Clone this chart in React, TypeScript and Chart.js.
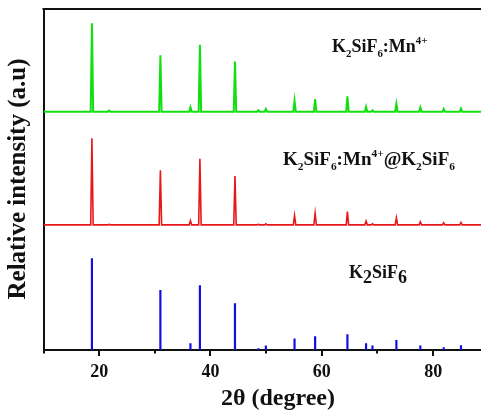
import React, { useEffect, useRef } from 'react';
import { Chart, registerables } from 'chart.js';

Chart.register(...registerables);

// ---- data (2θ in degrees, intensities in arbitrary units) ----
const X_MIN = 10;
const X_MAX = 88.6;
const Y_MAX = 100;

const peakPositions = [18.7, 21.8, 31.0, 36.4, 38.1, 44.4, 48.6, 49.95, 55.1, 58.8, 64.6, 67.95, 69.1, 73.4, 77.7, 81.9, 85.0];
const mnIntensity = [25.9, 0.3, 16.5, 1.3, 19.6, 14.7, 0.4, 0.8, 3.2, 3.7, 4.5, 1.4, 0.4, 2.3, 1.2, 0.8, 0.9];
const coreShellIntensity = [25.4, 0.15, 16.0, 1.2, 19.4, 14.3, 0.15, 0.3, 2.7, 3.4, 3.9, 1.1, 0.3, 2.1, 0.9, 0.6, 0.7];
const hostIntensity = [26.9, 0, 17.6, 2.0, 19.0, 13.7, 0.5, 1.3, 3.4, 4.0, 4.6, 2.0, 1.3, 2.9, 1.3, 0.8, 1.4];

const mnOffset = 69.9;
const coreShellOffset = 36.7;

const xTickValues = [10, 20, 30, 40, 50, 60, 70, 80];
const xLabelValues = [20, 40, 60, 80];
const xTitle = '2θ (degree)';
const yTitle = 'Relative intensity (a.u)';

type Seg = { t: string; k?: 'sub' | 'sup' };
const mnLabel: Seg[] = [{ t: 'K' }, { t: '2', k: 'sub' }, { t: 'SiF' }, { t: '6', k: 'sub' }, { t: ':Mn' }, { t: '4+', k: 'sup' }];
const coreShellLabel: Seg[] = [
  { t: 'K' }, { t: '2', k: 'sub' }, { t: 'SiF' }, { t: '6', k: 'sub' }, { t: ':Mn' }, { t: '4+', k: 'sup' },
  { t: '@K' }, { t: '2', k: 'sub' }, { t: 'SiF' }, { t: '6', k: 'sub' },
];
const hostLabel: Seg[] = [{ t: 'K' }, { t: '2', k: 'sub' }, { t: 'SiF' }, { t: '6', k: 'sub' }];

const FONT = "'Liberation Serif', 'Times New Roman', serif";
const PEAK_HALF_WIDTH = 0.22;

function profile(intens: number[], offset: number) {
  const pts: { x: number; y: number }[] = [{ x: X_MIN, y: offset }];
  peakPositions.forEach((p, i) => {
    const h = intens[i];
    if (!(h > 0)) return;
    pts.push({ x: p - PEAK_HALF_WIDTH, y: offset });
    pts.push({ x: p, y: offset + h });
    pts.push({ x: p + PEAK_HALF_WIDTH, y: offset });
  });
  pts.push({ x: X_MAX, y: offset });
  return pts;
}

function sticks(intens: number[]) {
  const pts: { x: number; y: number | null }[] = [];
  peakPositions.forEach((p, i) => {
    const h = intens[i];
    if (!(h > 0)) return;
    pts.push({ x: p, y: 0 }, { x: p, y: h }, { x: p, y: null });
  });
  return pts;
}

function drawRich(ctx: CanvasRenderingContext2D, segs: Seg[], x: number, y: number, size: number, subScale: number, subShift: number) {
  let cx = x;
  for (const s of segs) {
    let fs = size;
    let dy = 0;
    if (s.k === 'sub') { fs = size * subScale; dy = size * subShift; }
    else if (s.k === 'sup') { fs = size * 0.6; dy = -size * 0.42; }
    ctx.font = `bold ${fs}px ${FONT}`;
    ctx.fillText(s.t, cx, y + dy);
    cx += ctx.measureText(s.t).width;
  }
}

const decorPlugin = {
  id: 'decor',
  afterDraw(chart: any) {
    const ctx: CanvasRenderingContext2D = chart.ctx;
    const area = chart.chartArea;
    const xs = chart.scales.x;
    ctx.save();
    ctx.fillStyle = '#111';
    ctx.strokeStyle = '#111';
    // top frame line
    ctx.lineWidth = 2;
    ctx.beginPath();
    ctx.moveTo(area.left - 1, area.top);
    ctx.lineTo(area.right, area.top);
    ctx.stroke();
    // tick marks
    for (const v of xTickValues) {
      const px = Math.round(xs.getPixelForValue(v));
      const len = v % 20 === 0 ? 6 : 3.5;
      ctx.beginPath();
      ctx.moveTo(px, area.bottom);
      ctx.lineTo(px, area.bottom + len);
      ctx.stroke();
    }
    // series labels
    ctx.textAlign = 'left';
    ctx.textBaseline = 'alphabetic';
    drawRich(ctx, mnLabel, 332, 52, 18, 0.6, 0.25);
    drawRich(ctx, coreShellLabel, 283, 165, 19, 0.6, 0.25);
    drawRich(ctx, hostLabel, 349, 278, 18, 1.0, 0.28);
    // axis titles
    ctx.textAlign = 'center';
    ctx.font = `bold 24px ${FONT}`;
    ctx.fillText(xTitle, 278, 405);
    ctx.save();
    ctx.translate(25, 179);
    ctx.rotate(-Math.PI / 2);
    ctx.font = `bold 25px ${FONT}`;
    ctx.fillText(yTitle, 0, 0);
    ctx.restore();
    ctx.restore();
  },
};

export default function App() {
  const ref = useRef<HTMLCanvasElement | null>(null);
  useEffect(() => {
    if (!ref.current) return;
    const chart = new Chart(ref.current, {
      type: 'line',
      data: {
        datasets: [
          { label: 'K2SiF6:Mn4+', data: profile(mnIntensity, mnOffset), borderColor: '#10e010', borderWidth: 2, pointRadius: 0, tension: 0 },
          { label: 'K2SiF6:Mn4+@K2SiF6', data: profile(coreShellIntensity, coreShellOffset), borderColor: '#e81818', borderWidth: 1.6, pointRadius: 0, tension: 0 },
          { label: 'K2SiF6', data: sticks(hostIntensity), borderColor: '#1010e0', borderWidth: 2.2, pointRadius: 0, tension: 0, spanGaps: false },
        ],
      },
      options: {
        responsive: false,
        animation: false,
        events: [],
        layout: { padding: { top: 9, right: 0, left: 0, bottom: 0 } },
        plugins: { legend: { display: false }, tooltip: { enabled: false } },
        scales: {
          x: {
            type: 'linear',
            min: X_MIN,
            max: X_MAX,
            grid: { display: false },
            border: { display: true, color: '#111', width: 2 },
            ticks: {
              stepSize: 10,
              includeBounds: false,
              autoSkip: false,
              maxRotation: 0,
              padding: 4,
              color: '#111',
              font: { family: FONT, size: 18, weight: 'bold' },
              callback: (v: any) => (xLabelValues.includes(Number(v)) ? String(v) : ''),
            },
            afterFit: (s: any) => { s.height = 62; s.paddingRight = 0; },
          },
          y: {
            min: 0,
            max: Y_MAX,
            grid: { display: false },
            border: { display: true, color: '#111', width: 2 },
            ticks: { display: false },
            afterFit: (s: any) => { s.width = 43.5; },
          },
        },
      },
      plugins: [decorPlugin],
    } as any);
    return () => chart.destroy();
  }, []);
  return (
    <div style={{ position: 'fixed', left: 0, top: 0, width: 481, height: 412, background: '#fff' }}>
      <canvas ref={ref} width={481} height={412} style={{ display: 'block' }} />
    </div>
  );
}
